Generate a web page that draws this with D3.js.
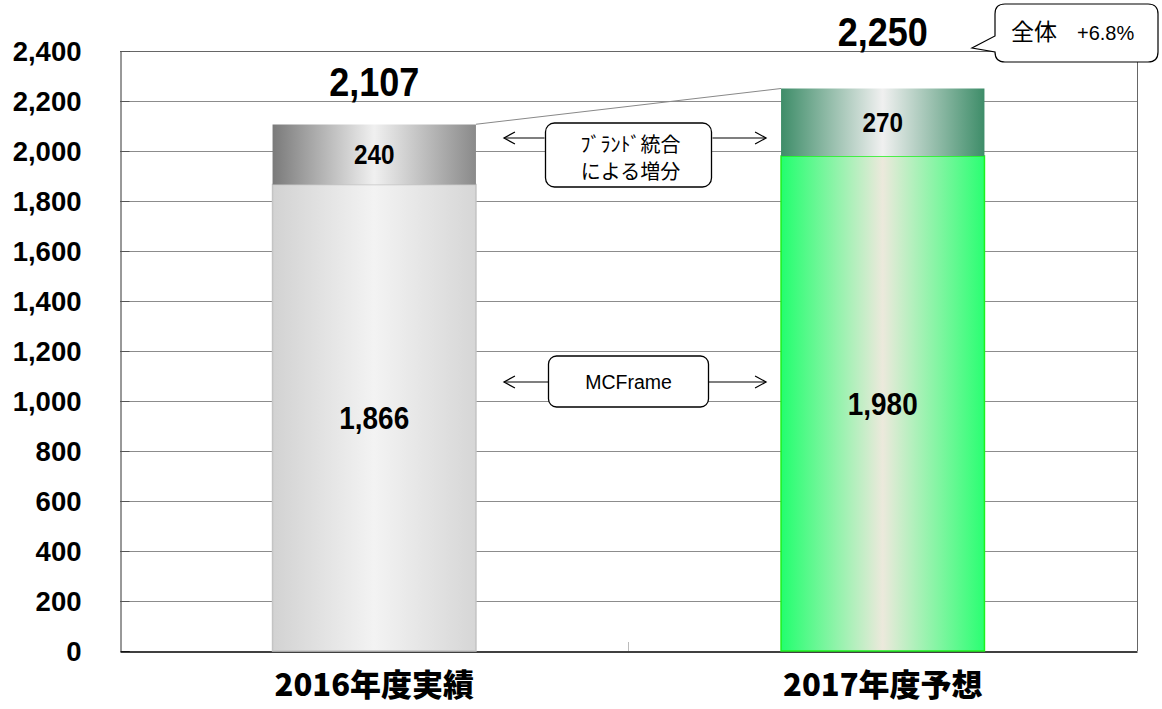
<!DOCTYPE html>
<html>
<head>
<meta charset="utf-8">
<script src="https://cdn.jsdelivr.net/npm/d3@7"></script>
<style>
  body { margin: 0; background: #fff; }
  svg { display: block; }
</style>
</head>
<body>
<div class="canvas"></div>
<script>
// data
const categories = ["2016年度実績", "2017年度予想"];
const baseValues = [1866, 1980];     // MCFrame
const brandValues = [240, 270];      // ブランド統合による増分
const totalValues = [2107, 2250];
const yTicks = [0, 200, 400, 600, 800, 1000, 1200, 1400, 1600, 1800, 2000, 2200, 2400];
const growthText = ["全体", "+6.8%"];
const baseLabel = "MCFrame";
const brandLabel = ["ﾌﾞﾗﾝﾄﾞ統合", "による増分"];

const width = 1162;
const height = 709;
const margin = { top: 51, left: 120, right: 25, bottom: 58 };
const numFont = "'Liberation Sans', Arial, sans-serif";
const jpFont = "'Noto Sans CJK JP', 'Noto Sans', sans-serif";

const svg = d3
  .select(".canvas")
  .append("svg")
  .attr("width", width)
  .attr("height", height);

// gradients
const defs = svg.append("defs");
const gradients = [
  { id: "g-base0", stops: ["#d2d2d2", "#f3f3f3", "#d6d6d6"] },
  { id: "g-top0", stops: ["#7a7a7a", "#f0f0f0", "#8a8a8a"] },
  { id: "g-base1", stops: ["#22ff6e", "#ece9dc", "#2aff72"] },
  { id: "g-top1", stops: ["#3e8d69", "#f0f0f0", "#3e8d69"] },
];
gradients.forEach((g) => {
  const lg = defs.append("linearGradient").attr("id", g.id).attr("x1", "0%").attr("x2", "100%");
  g.stops.forEach((c, i) => {
    lg.append("stop").attr("offset", `${i * 50}%`).attr("stop-color", c);
  });
});

// scales
const x = d3
  .scaleBand()
  .domain(categories)
  .range([margin.left, width - margin.right])
  .paddingInner(0.6)
  .paddingOuter(0.3);

const y = d3
  .scaleLinear()
  .domain([0, 2400])
  .range([height - margin.bottom, margin.top]);

// gridlines
svg
  .append("g")
  .selectAll("line")
  .data(yTicks.slice(1, -1))
  .enter()
  .append("line")
  .attr("x1", margin.left)
  .attr("x2", width - margin.right)
  .attr("y1", (d) => y(d) + 0.5)
  .attr("y2", (d) => y(d) + 0.5)
  .attr("stroke", "#8c8c8c")
  .attr("stroke-width", 1);

// frame top and right
svg
  .append("path")
  .attr("d", `M${margin.left},${y(2400) + 0.5}H${width - margin.right + 0.5}V${y(0)}`)
  .attr("fill", "none")
  .attr("stroke", "#666")
  .attr("stroke-width", 1);

// squeeze bold text a little, like the narrow font of the original
const squeeze = (sel, k) => {
  sel.each(function () {
    const len = this.getComputedTextLength();
    d3.select(this).attr("textLength", len * k).attr("lengthAdjust", "spacingAndGlyphs");
  });
};

// y axis
const yAxis = d3
  .axisLeft(y)
  .tickValues(yTicks)
  .tickSize(-9)
  .tickPadding(39)
  .tickFormat(d3.format(","));

const yAxisGroup = svg
  .append("g")
  .attr("transform", `translate(${margin.left + 0.5},0)`)
  .call(yAxis);
yAxisGroup.select(".domain").attr("stroke", "#333");
yAxisGroup.selectAll(".tick line").attr("stroke", "#555");
yAxisGroup
  .selectAll("text")
  .attr("font-family", numFont)
  .attr("font-weight", "bold")
  .attr("font-size", 27.5)
  .attr("fill", "#000")
  .attr("dy", "0.35em");

// x axis
const xAxisGroup = svg
  .append("g")
  .attr("transform", `translate(0,${y(0) + 0.5})`)
  .call(d3.axisBottom(x).tickSize(0).tickPadding(26));
xAxisGroup.select(".domain").attr("stroke", "#000").attr("stroke-width", 1.5);
xAxisGroup
  .selectAll("text")
  .attr("font-family", jpFont)
  .attr("font-weight", 900)
  .attr("font-size", 31)
  .attr("fill", "#000")
  .attr("dy", "0.6em");

// category divider tick
const step = x.step();
svg
  .append("line")
  .attr("x1", x(categories[0]) + x.bandwidth() + (step - x.bandwidth()) / 2)
  .attr("x2", x(categories[0]) + x.bandwidth() + (step - x.bandwidth()) / 2)
  .attr("y1", y(0))
  .attr("y2", y(0) - 9)
  .attr("stroke", "#bbb");

// connector between totals
svg
  .append("line")
  .attr("x1", x(categories[0]) + x.bandwidth())
  .attr("y1", y(totalValues[0]))
  .attr("x2", x(categories[1]))
  .attr("y2", y(totalValues[1]))
  .attr("stroke", "#888")
  .attr("stroke-width", 1.2);

// bars
const bars = svg
  .append("g")
  .selectAll("g")
  .data(categories)
  .enter()
  .append("g");

bars
  .append("rect")
  .attr("x", (d) => x(d))
  .attr("width", x.bandwidth())
  .attr("y", (d, i) => y(baseValues[i]))
  .attr("height", (d, i) => y(0) - y(baseValues[i]))
  .attr("fill", (d, i) => `url(#g-base${i})`)
  .attr("stroke", (d, i) => (i === 0 ? "#c4c4c4" : "#1ef01e"))
  .attr("stroke-width", 1.5);

bars
  .append("rect")
  .attr("x", (d) => x(d))
  .attr("width", x.bandwidth())
  .attr("y", (d, i) => y(baseValues[i] + brandValues[i]))
  .attr("height", (d, i) => y(baseValues[i]) - y(baseValues[i] + brandValues[i]))
  .attr("fill", (d, i) => `url(#g-top${i})`);

const valueText = (sel) =>
  sel
    .attr("text-anchor", "middle")
    .attr("font-family", numFont)
    .attr("font-weight", "bold")
    .attr("fill", "#000");

bars
  .append("text")
  .call(valueText)
  .attr("x", (d) => x(d) + x.bandwidth() / 2)
  .attr("y", (d, i) => (y(0) + y(baseValues[i])) / 2)
  .attr("dy", "0.36em")
  .attr("font-size", 31)
  .text((d, i) => d3.format(",")(baseValues[i]))
  .call(squeeze, 0.9);

bars
  .append("text")
  .call(valueText)
  .attr("x", (d) => x(d) + x.bandwidth() / 2)
  .attr("y", (d, i) => (y(baseValues[i]) + y(baseValues[i] + brandValues[i])) / 2)
  .attr("dy", "0.36em")
  .attr("font-size", 27)
  .text((d, i) => brandValues[i])
  .call(squeeze, 0.9);

const totalLift = [28, 43];
bars
  .append("text")
  .call(valueText)
  .attr("x", (d) => x(d) + x.bandwidth() / 2)
  .attr("y", (d, i) => y(totalValues[i]) - totalLift[i])
  .attr("font-size", 40)
  .text((d, i) => d3.format(",")(totalValues[i]))
  .call(squeeze, 0.9);

// annotation boxes with arrows
const gapLeft = x(categories[0]) + x.bandwidth();
const gapRight = x(categories[1]);
const midX = (gapLeft + gapRight) / 2;

const arrow = (yPos, x0, x1, dir) => {
  svg
    .append("line")
    .attr("x1", x0)
    .attr("x2", x1)
    .attr("y1", yPos)
    .attr("y2", yPos)
    .attr("stroke", "#000")
    .attr("stroke-width", 1.2);
  svg
    .append("path")
    .attr("d", `M${x1 - dir * 11},${yPos - 6}L${x1},${yPos}L${x1 - dir * 11},${yPos + 6}`)
    .attr("fill", "none")
    .attr("stroke", "#000")
    .attr("stroke-width", 1.2);
};

// brand box: arrow sits at the upper part of the box
arrow(138, midX - 84, gapLeft + 28, -1);
arrow(138, midX + 84, gapRight - 15, 1);
svg
  .append("rect")
  .attr("x", midX - 83)
  .attr("y", 123)
  .attr("width", 166)
  .attr("height", 64)
  .attr("rx", 9)
  .attr("fill", "#fff")
  .attr("stroke", "#000")
  .attr("stroke-width", 1.3);
svg
  .append("text")
  .attr("text-anchor", "middle")
  .attr("font-family", jpFont)
  .attr("font-size", 20)
  .attr("fill", "#000")
  .selectAll("tspan")
  .data(brandLabel)
  .enter()
  .append("tspan")
  .attr("x", midX + 2)
  .attr("y", (d, i) => 145 + i * 27)
  .attr("dy", "0.36em")
  .text((d) => d);

// MCFrame box
arrow(382, midX - 80, gapLeft + 28, -1);
arrow(382, midX + 80, gapRight - 15, 1);
svg
  .append("rect")
  .attr("x", midX - 80)
  .attr("y", 356)
  .attr("width", 160)
  .attr("height", 51)
  .attr("rx", 8)
  .attr("fill", "#fff")
  .attr("stroke", "#000")
  .attr("stroke-width", 1.3);
svg
  .append("text")
  .attr("text-anchor", "middle")
  .attr("font-family", numFont)
  .attr("font-size", 19.5)
  .attr("fill", "#000")
  .attr("x", midX)
  .attr("y", 382)
  .attr("dy", "0.36em")
  .text(baseLabel);

// callout for overall growth
const cx0 = 995, cy0 = 4, cx1 = 1158, cy1 = 62, r = 10;
svg
  .append("path")
  .attr(
    "d",
    `M${cx0 + r},${cy0}H${cx1 - r}Q${cx1},${cy0} ${cx1},${cy0 + r}V${cy1 - r}Q${cx1},${cy1} ${cx1 - r},${cy1}` +
      `H${cx0 + r}Q${cx0},${cy1} ${cx0},${cy1 - r}V52L972,48L${cx0},36V${cy0 + r}Q${cx0},${cy0} ${cx0 + r},${cy0}Z`
  )
  .attr("fill", "#fff")
  .attr("stroke", "#000")
  .attr("stroke-width", 1.2);

const callText = svg
  .append("text")
  .attr("y", 40)
  .attr("fill", "#000");
callText
  .append("tspan")
  .attr("x", 1011)
  .attr("font-family", jpFont)
  .attr("font-size", 23)
  .text(growthText[0]);
callText
  .append("tspan")
  .attr("x", 1077)
  .attr("font-family", numFont)
  .attr("font-size", 20)
  .text(growthText[1]);
</script>
</body>
</html>
